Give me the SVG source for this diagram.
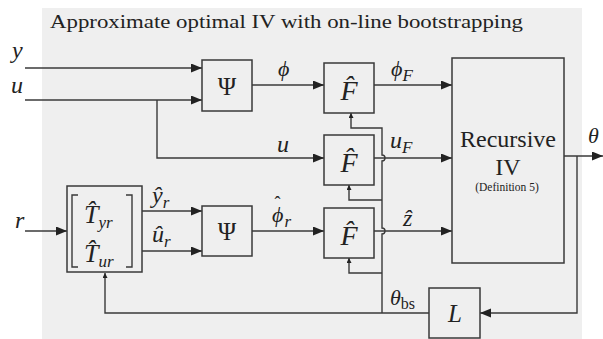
<svg xmlns="http://www.w3.org/2000/svg" width="603" height="339" viewBox="0 0 603 339">
<defs>
<style>
.ln{fill:none;stroke:#3a3a3a;stroke-width:1.4}
.bx{fill:none;stroke:#3a3a3a;stroke-width:1.5}
text{fill:#222}
.m{font-style:italic}
</style>
<marker id="ah" markerUnits="userSpaceOnUse" markerWidth="12" markerHeight="10" refX="11" refY="4.5" orient="auto"><path d="M0,0 L11,4.5 L0,9 Z" fill="#222"/></marker>
<marker id="as" markerUnits="userSpaceOnUse" markerWidth="6" markerHeight="6" refX="5" refY="2.5" orient="auto"><path d="M0,0 L5,2.5 L0,5 Z" fill="#222"/></marker>
</defs>
<rect x="0" y="0" width="603" height="339" fill="#ffffff"/>
<rect x="42" y="8" width="540" height="331" fill="#efefef"/>
<g font-family="Liberation Serif, DejaVu Serif, serif">
<text x="50" y="28" font-size="19" textLength="473" lengthAdjust="spacingAndGlyphs">Approximate optimal IV with on-line bootstrapping</text>

<g id="connectors">
<path class="ln" d="M25,68 H202" marker-end="url(#ah)"/>
<path class="ln" d="M25,100 H202" marker-end="url(#ah)"/>
<path class="ln" d="M157,100 V158 H324" marker-end="url(#ah)"/>
<path class="ln" d="M252,85 H324" marker-end="url(#ah)"/>
<path class="ln" d="M374,85 H452" marker-end="url(#ah)"/>
<path class="ln" d="M374,158 H452" marker-end="url(#ah)"/>
<path class="ln" d="M374,231 H452" marker-end="url(#ah)"/>
<path class="ln" d="M25,231 H67" marker-end="url(#ah)"/>
<path class="ln" d="M142,211 H202" marker-end="url(#ah)"/>
<path class="ln" d="M142,251 H202" marker-end="url(#ah)"/>
<path class="ln" d="M252,231 H324" marker-end="url(#ah)"/>
<path class="ln" d="M564,156 H603" marker-end="url(#ah)"/>
<path class="ln" d="M577,156 V313 H480" marker-end="url(#ah)"/>
<path class="ln" d="M429,313 H105 V273" marker-end="url(#as)"/>
<path class="ln" d="M382,313 V234 A3,3 0 0 0 382,228 V161 A3,3 0 0 0 382,155 V128 H351 V113" marker-end="url(#as)"/>
<path class="ln" d="M382,200 H349 V185" marker-end="url(#as)"/>
<path class="ln" d="M382,273 H349 V258" marker-end="url(#as)"/>
</g>

<g id="psi1"><rect class="bx" x="202" y="60" width="50" height="51"/><text x="227" y="95" font-size="25" text-anchor="middle">Ψ</text></g>
<g id="psi2"><rect class="bx" x="202" y="206" width="50" height="50"/><text x="227" y="240" font-size="25" text-anchor="middle">Ψ</text></g>
<g id="f1"><rect class="bx" x="324" y="63" width="50" height="50"/><text class="m" x="349" y="100" font-size="28" text-anchor="middle">F̂</text></g>
<g id="f2"><rect class="bx" x="324" y="135" width="50" height="50"/><text class="m" x="349" y="172" font-size="28" text-anchor="middle">F̂</text></g>
<g id="f3"><rect class="bx" x="324" y="208" width="50" height="50"/><text class="m" x="349" y="245" font-size="28" text-anchor="middle">F̂</text></g>
<g id="riv"><rect class="bx" x="452" y="58" width="112" height="205"/>
<text x="508" y="147" font-size="24" text-anchor="middle">Recursive</text>
<text x="508" y="175" font-size="24" text-anchor="middle">IV</text>
<text x="507" y="191" font-size="11.5" text-anchor="middle">(Definition 5)</text></g>
<g id="L"><rect class="bx" x="429" y="288" width="51" height="50"/><text class="m" x="455" y="322" font-size="25" text-anchor="middle">L</text></g>
<g id="T"><rect class="bx" x="67" y="186" width="75" height="86"/>
<path class="ln" d="M78,195 H72 V267 H78 M126,195 H132 V267 H126"/>
<text class="m" x="84" y="223" font-size="26">T̂<tspan font-size="17" dy="5">yr</tspan></text>
<text class="m" x="84" y="262" font-size="26">T̂<tspan font-size="17" dy="5">ur</tspan></text>
</g>

<g id="labels">
<text class="m" x="12" y="58" font-size="24">y</text>
<text class="m" x="11" y="93" font-size="24">u</text>
<text class="m" x="15" y="228" font-size="24">r</text>
<text class="m" x="278" y="76" font-size="22">ϕ</text>
<text class="m" x="277" y="152" font-size="24">u</text>
<text class="m" x="391" y="76" font-size="22">ϕ<tspan font-size="17" dy="5">F</tspan></text>
<text class="m" x="390" y="148" font-size="24">u<tspan font-size="17" dy="5">F</tspan></text>
<text class="m" x="403" y="226" font-size="24">ẑ</text>
<text class="m" x="152" y="203" font-size="24">ŷ<tspan font-size="17" dy="5">r</tspan></text>
<text class="m" x="152" y="242" font-size="24">û<tspan font-size="17" dy="5">r</tspan></text>
<text class="m" x="272" y="222" font-size="22">ϕ<tspan font-style="normal" font-size="18" dx="-9" dy="-13">ˆ</tspan><tspan font-size="17" dx="4" dy="18">r</tspan></text>
<text class="m" x="390" y="305" font-size="22">θ<tspan font-style="normal" font-size="16" dy="4">bs</tspan></text>
<text class="m" x="588" y="143" font-size="22">θ</text>
</g>
</g>
</svg>
